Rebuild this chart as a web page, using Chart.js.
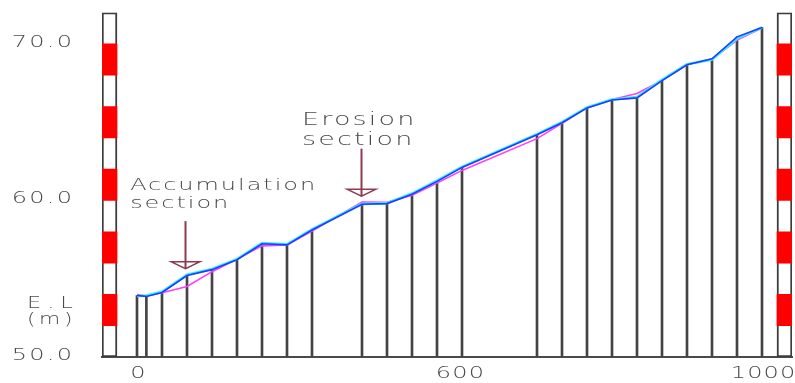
<!DOCTYPE html>
<html>
<head>
<meta charset="utf-8">
<script src="https://cdn.jsdelivr.net/npm/chart.js@4/dist/chart.umd.min.js"></script>
<style>
  html, body { margin: 0; padding: 0; background: #fff; }
  canvas { display: block; }
</style>
</head>
<body>
<canvas id="c" width="795" height="383"></canvas>
<script>
// ---------------- data ----------------
const sectionX = [0, 15, 40, 80, 120, 160, 200, 240, 280, 360, 400, 440, 480, 520, 640, 680, 720, 760, 800, 840, 880, 920, 960, 1000];
const blueElev    = [53.93, 53.87, 54.12, 55.20, 55.58, 56.21, 57.23, 57.16, 58.11, 59.76, 59.80, 60.40, 61.22, 62.11, 64.20, 64.96, 65.91, 66.42, 66.55, 67.65, 68.67, 69.05, 70.45, 71.05];
const cyanElev    = [53.90, 53.92, 54.16, 55.25, 55.62, 56.25, 57.27, 57.20, 58.15, 59.78, 59.83, 60.44, 61.26, 62.15, 64.24, 65.00, 65.94, 66.45, 66.60, 67.70, 68.70, 69.00, 70.35, 71.05];
const magentaElev = [53.99, 53.90, 54.10, 54.50, 55.45, 56.25, 57.10, 57.16, 58.05, 59.90, 59.88, 60.33, 61.11, 61.92, 63.95, 64.92, 65.91, 66.45, 66.83, 67.66, 68.68, 69.02, 70.25, 71.02];
const staffX = [-44, 1036];
const staffRange = [50, 72];
const staffRed = [[52, 54], [56, 58], [60, 62], [64, 66], [68, 70]];
const xTickValues = [0, 515, 1000];
const xTickLabels = ['0', '600', '1000'];
const yTickValues = [50, 60, 70];
const yTitleLines = ['E.L', '(m)'];

// annotations (data coordinates)
const arrows = [
  { x: 77, yTop: 58.68, yTip: 55.64 },
  { x: 358, yTop: 63.31, yTip: 60.27 }
];
const notes = [
  { x: -11, y: 60.65, text: 'Accumulation', size: 16 },
  { x: -11, y: 59.51, text: 'section', size: 16 },
  { x: 264, y: 64.83, text: 'Erosion', size: 18 },
  { x: 264, y: 63.57, text: 'section', size: 18 }
];

// ---------------- helpers ----------------
const FONT = '"DejaVu Sans", sans-serif';
const TEXT_COLOR = '#4a4a4a';
function stretchText(ctx, str, x, y, size, sx, spacing, align) {
  ctx.save();
  ctx.font = '200 ' + size + 'px ' + FONT;
  try { ctx.letterSpacing = spacing + 'px'; } catch (e) {}
  ctx.fillStyle = TEXT_COLOR;
  ctx.textBaseline = 'alphabetic';
  ctx.textAlign = 'left';
  const w = (ctx.measureText(str).width - (ctx.letterSpacing ? spacing : 0)) * sx;
  let left = x;
  if (align === 'center') left = x - w / 2;
  else if (align === 'right') left = x - w;
  ctx.translate(left, y);
  ctx.scale(sx, 1);
  ctx.fillText(str, 0, 0);
  ctx.restore();
}

const overlay = {
  id: 'overlay',
  afterDraw(chart) {
    const ctx = chart.ctx;
    const xs = chart.scales.x, ys = chart.scales.y;
    // tick labels (from the library's ticks)
    ys.ticks.forEach(t => {
      stretchText(ctx, t.label, 72, ys.getPixelForValue(t.value) + 3, 16, 1.5, 1.5, 'right');
    });
    xs.ticks.forEach(t => {
      stretchText(ctx, t.label, xs.getPixelForValue(t.value) + 1, 378, 16, 1.5, 0.8, 'center');
    });
    // axis title
    stretchText(ctx, yTitleLines[0], 27, 308, 15, 1.5, 4, 'left');
    stretchText(ctx, yTitleLines[1], 27, 324, 15, 1.45, 2.5, 'left');
    // arrows
    ctx.save();
    ctx.strokeStyle = '#8e3a50';
    arrows.forEach(a => {
      const px = Math.round(xs.getPixelForValue(a.x)) + 0.5;
      const top = ys.getPixelForValue(a.yTop);
      const tip = ys.getPixelForValue(a.yTip);
      const base = tip - 7;
      ctx.lineWidth = 2;
      ctx.beginPath();
      ctx.moveTo(px, top);
      ctx.lineTo(px, tip);
      ctx.stroke();
      ctx.lineWidth = 1.4;
      ctx.beginPath();
      ctx.moveTo(px - 14.5, base);
      ctx.lineTo(px + 14.5, base);
      ctx.lineTo(px, tip);
      ctx.closePath();
      ctx.stroke();
    });
    ctx.restore();
    // notes
    notes.forEach(n => {
      stretchText(ctx, n.text, xs.getPixelForValue(n.x), ys.getPixelForValue(n.y), n.size, 1.5, n.size === 16 ? 1.3 : 1.45, 'left');
    });
  }
};

const pts = arr => sectionX.map((x, i) => ({ x: x, y: arr[i] }));

new Chart(document.getElementById('c'), {
  type: 'bar',
  data: {
    datasets: [
      { type: 'line', label: 'Profile (blue)', data: pts(blueElev), borderColor: '#2438ff', borderWidth: 1.6, pointRadius: 0, tension: 0, order: 1 },
      { type: 'line', label: 'Profile (cyan)', data: pts(cyanElev), borderColor: '#2ef2ff', borderWidth: 2.6, pointRadius: 0, tension: 0, order: 2 },
      { type: 'line', label: 'Profile (magenta)', data: pts(magentaElev), borderColor: '#ff3cff', borderWidth: 1.6, pointRadius: 0, tension: 0, order: 3 },
      { type: 'bar', label: 'Sections', data: sectionX.map((x, i) => ({ x: x, y: [50, blueElev[i]] })), backgroundColor: '#444444', barThickness: 2, grouped: false, order: 4 },
      { type: 'bar', label: 'Staff red', data: staffX.flatMap(x => staffRed.map(r => ({ x: x, y: r }))), backgroundColor: '#ff0000', barThickness: 15, grouped: false, order: 5 },
      { type: 'bar', label: 'Staff', data: staffX.map(x => ({ x: x, y: staffRange })), backgroundColor: '#ffffff', borderColor: '#3c3c3c', borderWidth: 2, borderSkipped: false, barThickness: 15, grouped: false, order: 6 }
    ]
  },
  options: {
    responsive: false,
    animation: false,
    devicePixelRatio: 1,
    layout: { padding: { top: 10, right: 3, left: 0, bottom: 0 } },
    plugins: { legend: { display: false }, tooltip: { enabled: false } },
    scales: {
      x: {
        type: 'linear', min: -56, max: 1048, offset: false,
        grid: { display: false },
        border: { display: true, color: '#4a4a4a', width: 2 },
        ticks: { color: 'rgba(0,0,0,0)', font: { family: FONT, size: 16 }, callback: (v, i) => xTickLabels[i] },
        afterBuildTicks: s => { s.ticks = xTickValues.map(v => ({ value: v })); },
        afterFit: s => { s.height = 26; }
      },
      y: {
        type: 'linear', min: 50, max: 72,
        grid: { display: false },
        border: { display: false },
        ticks: { color: 'rgba(0,0,0,0)', font: { family: FONT, size: 16 }, callback: v => Number(v).toFixed(1) },
        afterBuildTicks: s => { s.ticks = yTickValues.map(v => ({ value: v })); },
        afterFit: s => { s.width = 102; }
      }
    }
  },
  plugins: [overlay]
});
</script>
</body>
</html>
